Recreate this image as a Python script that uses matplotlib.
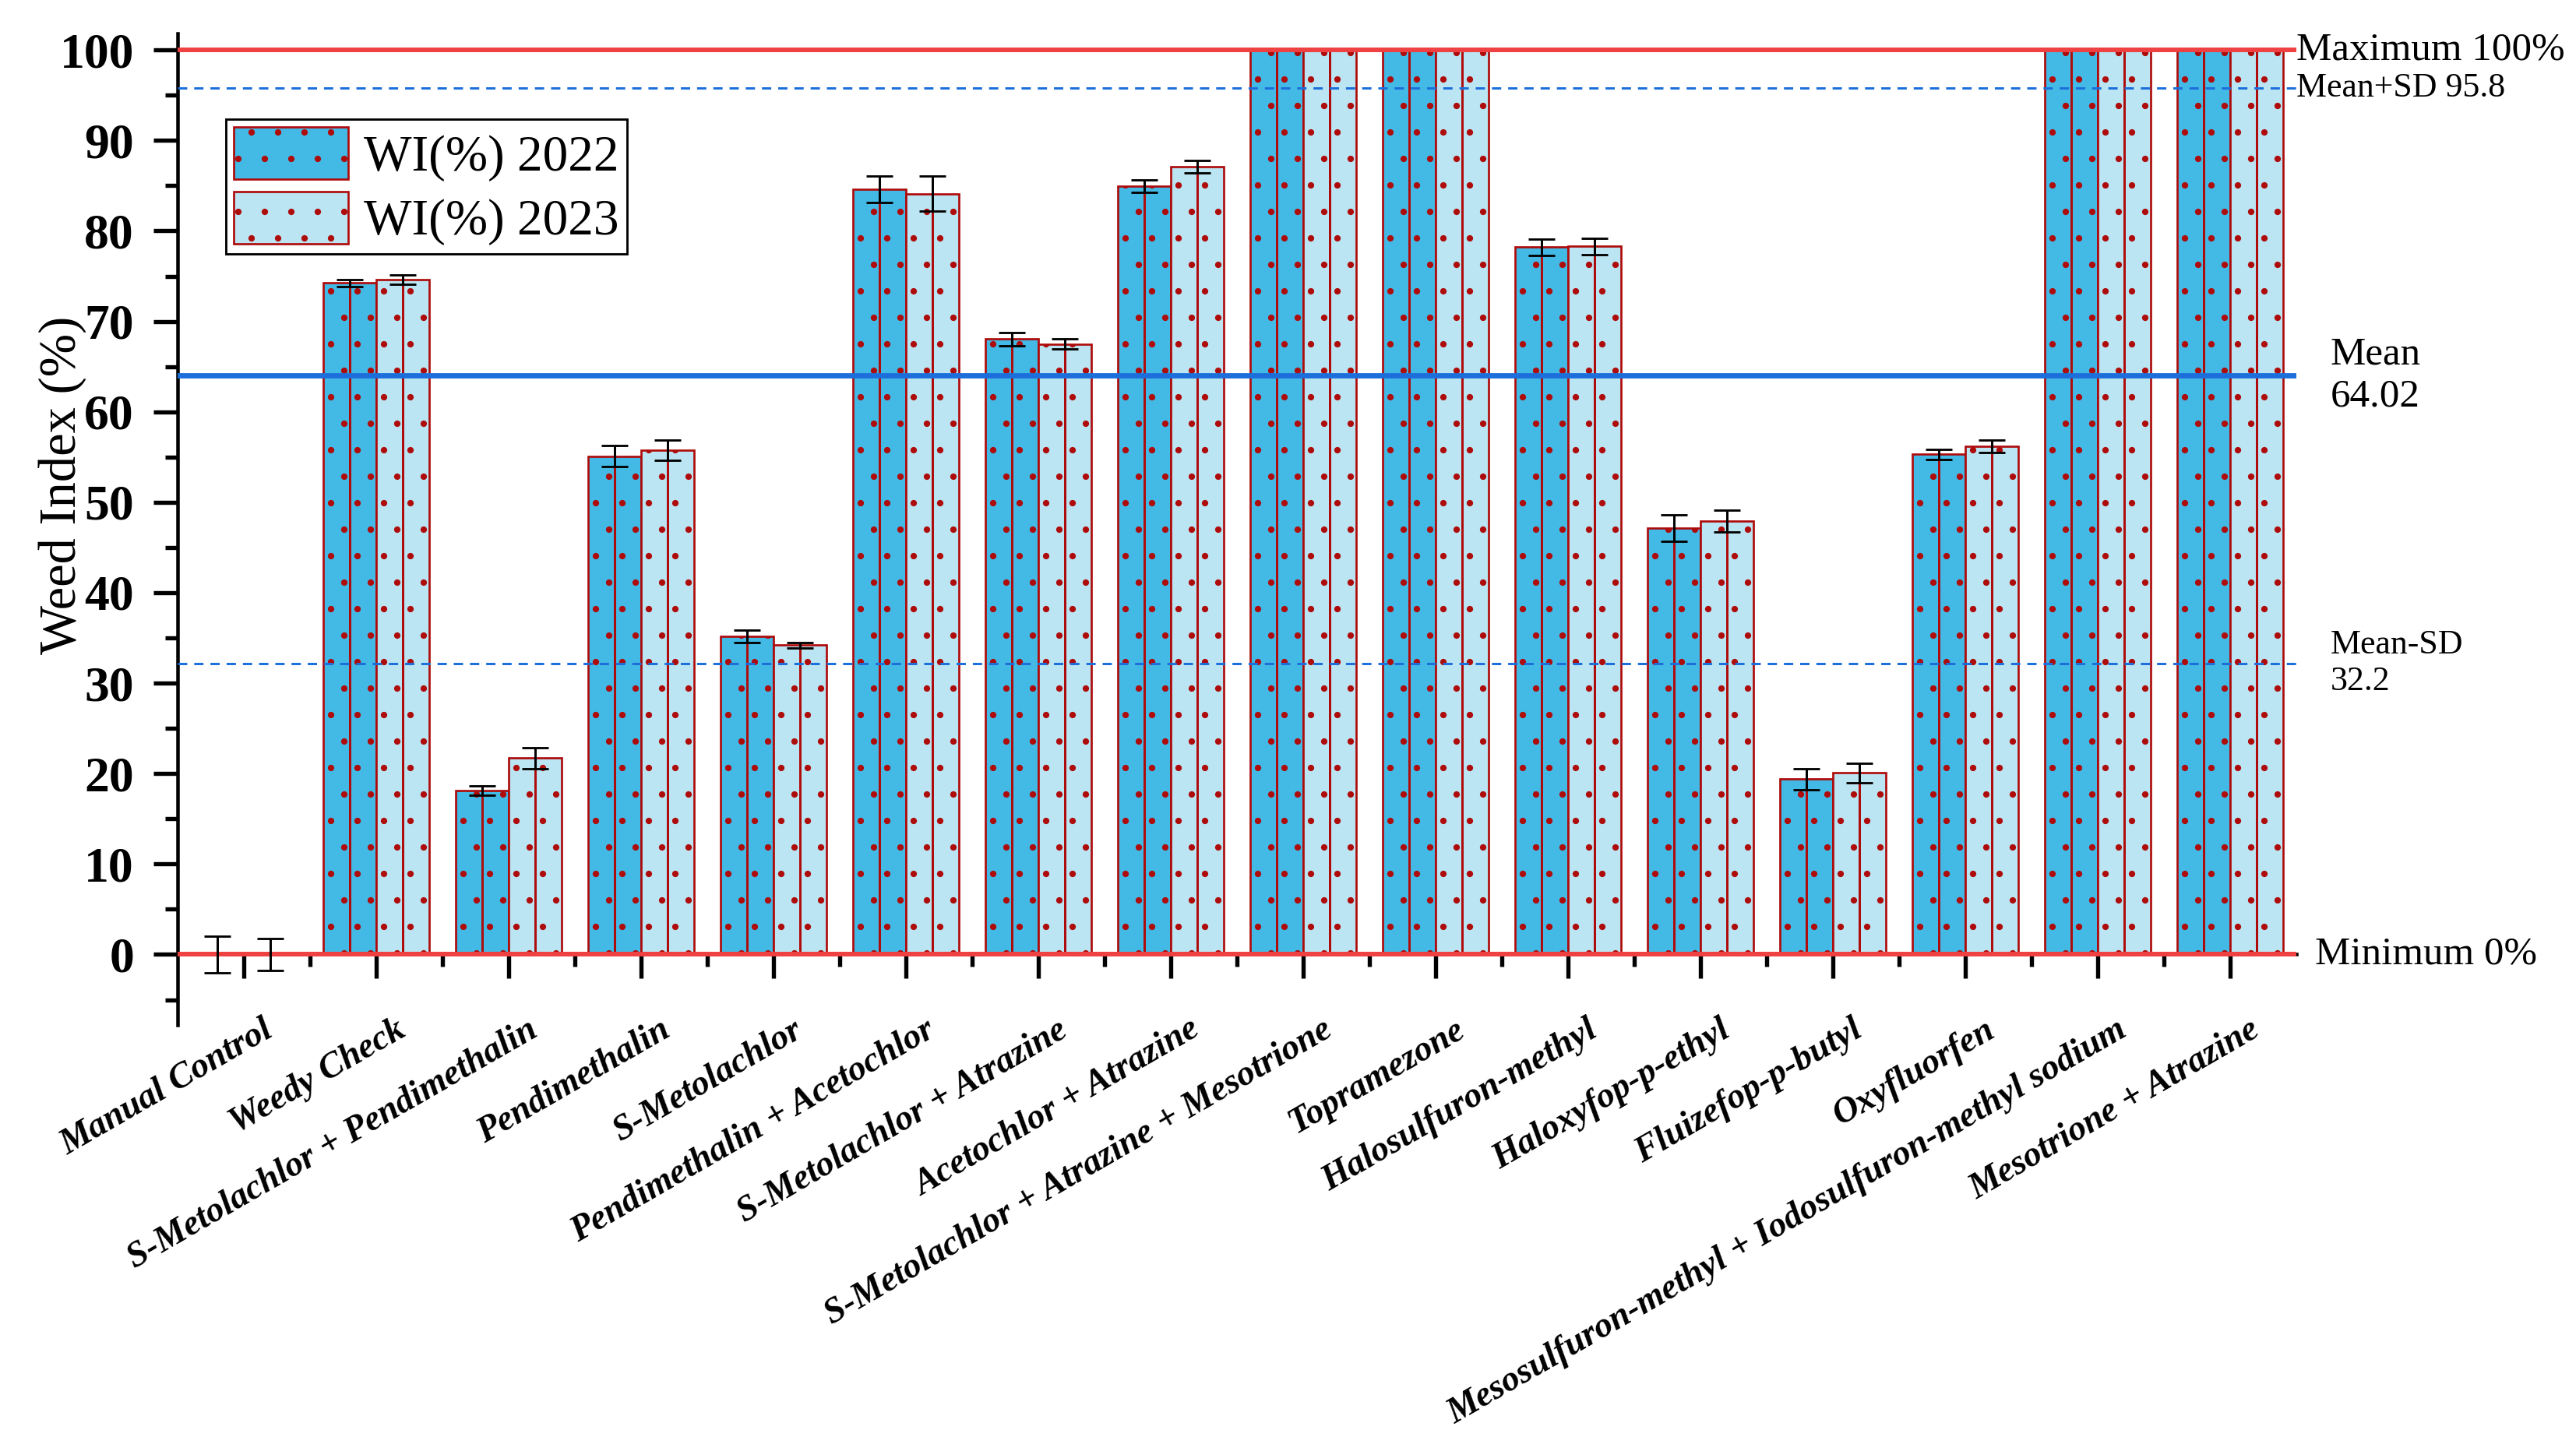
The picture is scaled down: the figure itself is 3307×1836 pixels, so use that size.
import numpy as np
import matplotlib
matplotlib.use("Agg")
import matplotlib.pyplot as plt
import matplotlib.transforms as mtransforms
from matplotlib.ticker import MultipleLocator, FixedLocator

# ---------------- data ----------------
categories = [
    "Manual Control", "Weedy Check", "S-Metolachlor + Pendimethalin",
    "Pendimethalin", "S-Metolachlor", "Pendimethalin + Acetochlor",
    "S-Metolachlor + Atrazine", "Acetochlor + Atrazine",
    "S-Metolachlor + Atrazine + Mesotrione", "Topramezone",
    "Halosulfuron-methyl", "Haloxyfop-p-ethyl", "Fluizefop-p-butyl",
    "Oxyfluorfen", "Mesosulfuron-methyl + Iodosulfuron-methyl sodium",
    "Mesotrione + Atrazine",
]
wi_2022 = [0, 74.25, 18.1, 55.1, 35.2, 84.64, 68.05, 84.93, 100, 100,
           78.2, 47.13, 19.41, 55.31, 100, 100]
sd_2022 = [2.0, 0.39, 0.5, 1.16, 0.7, 1.46, 0.73, 0.69, 0, 0,
           0.9, 1.47, 1.16, 0.57, 0, 0]
wi_2023 = [0, 74.6, 21.7, 55.74, 34.2, 84.12, 67.5, 87.13, 100, 100,
           78.3, 47.93, 20.07, 56.17, 100, 100]
sd_2023 = [1.8, 0.52, 1.2, 1.12, 0.3, 1.94, 0.55, 0.69, 0, 0,
           0.9, 1.23, 1.06, 0.69, 0, 0]
series_labels = ["WI(%) 2022", "WI(%) 2023"]
mean_value = 64.02
mean_plus_sd = 95.8
mean_minus_sd = 32.2
max_value = 100
min_value = 0

# ---------------- style ----------------
DPI = 204
C22 = "#43B9E5"
C23 = "#BBE5F2"
EDGE = "#AE0B0B"
RED = "#EF4141"
BLUE = "#1C6FDB"

plt.rcParams["font.family"] = ["Liberation Serif", "DejaVu Serif"]
plt.rcParams["hatch.linewidth"] = 0.5
plt.rcParams["hatch.color"] = EDGE

fig = plt.figure(figsize=(3307 / DPI, 1836 / DPI), dpi=DPI)
ax = fig.add_axes([0.06894, 0.2832, 0.8225, 0.6932])

x = np.arange(len(categories))
w = 0.4
x22 = x - w / 2
x23 = x + w / 2

b1 = ax.bar(x22, wi_2022, w, color=C22, edgecolor=EDGE, linewidth=0.95,
            hatch=".", zorder=2)
b2 = ax.bar(x23, wi_2023, w, color=C23, edgecolor=EDGE, linewidth=0.95,
            hatch=".", zorder=2)

# central red lines within each bar
ax.vlines(x22, 0, wi_2022, colors=EDGE, linewidth=1.05, zorder=2.5)
ax.vlines(x23, 0, wi_2023, colors=EDGE, linewidth=1.05, zorder=2.5)

# error bars
for xs, vals, errs in ((x22, wi_2022, sd_2022), (x23, wi_2023, sd_2023)):
    vals = np.asarray(vals, float)
    errs = np.asarray(errs, float)
    m = errs > 0
    ax.errorbar(xs[m], vals[m], yerr=errs[m], fmt="none", ecolor="black",
                elinewidth=1.05, capsize=6, capthick=1.0, zorder=4)

# reference lines
ax.axhline(max_value, color=RED, lw=2.1, zorder=3)
ax.axhline(min_value, color=RED, lw=2.1, zorder=3)
ax.axhline(mean_value, color=BLUE, lw=2.4, zorder=3)
ax.axhline(mean_plus_sd, color=BLUE, lw=1.05, dashes=(4, 3), zorder=3)
ax.axhline(mean_minus_sd, color=BLUE, lw=1.05, dashes=(4, 3), zorder=3)

# axes limits
ax.set_xlim(-0.5, len(categories) - 0.5)
ax.set_ylim(-7.8, 101.8)

# spines
for s in ("top", "right"):
    ax.spines[s].set_visible(False)
ax.spines["bottom"].set_position(("data", 0))
ax.spines["left"].set_linewidth(1.6)
ax.spines["bottom"].set_linewidth(1.6)

# ticks
ax.yaxis.set_major_locator(MultipleLocator(10))
ax.yaxis.set_minor_locator(MultipleLocator(5))
ax.xaxis.set_major_locator(FixedLocator(x))
ax.xaxis.set_minor_locator(FixedLocator(x[:-1] + 0.5))
ax.tick_params(axis="both", which="major", direction="out", length=10.8,
               width=1.9)
ax.tick_params(axis="both", which="minor", direction="out", length=5.6,
               width=1.9)
ax.tick_params(axis="y", which="major", pad=9, labelsize=22.5)
ax.tick_params(axis="x", which="major", pad=16)
for lab in ax.get_yticklabels():
    lab.set_fontweight("bold")

ax.set_xticklabels(categories, rotation=30, ha="right", va="top",
                   rotation_mode="anchor", fontsize=16.2,
                   fontweight="bold", fontstyle="italic")
offset = mtransforms.ScaledTranslation(24 / DPI, 0, fig.dpi_scale_trans)
for lab in ax.get_xticklabels():
    lab.set_transform(lab.get_transform() + offset)

ax.set_ylabel("Weed Index (%)", fontsize=23.5)
ax.yaxis.set_label_coords(-0.043, 0.545)

# right-side annotations
trans = mtransforms.blended_transform_factory(ax.transAxes, ax.transData)
ax.text(1.0, max_value, f"Maximum {max_value}%", transform=trans,
        ha="left", va="center", fontsize=18, clip_on=False)
ax.text(1.0, mean_plus_sd, f"Mean+SD {mean_plus_sd}", transform=trans,
        ha="left", va="center", fontsize=15.5, clip_on=False)
ax.text(1.016, mean_value, f"Mean\n{mean_value:.2f}", transform=trans,
        ha="left", va="center", fontsize=18, linespacing=1.2, clip_on=False)
ax.text(1.016, mean_minus_sd, f"Mean-SD\n{mean_minus_sd}", transform=trans,
        ha="left", va="center", fontsize=15.5, linespacing=1.2,
        clip_on=False)
ax.text(1.009, min_value, f"Minimum {min_value}%", transform=trans,
        ha="left", va="center", fontsize=18, clip_on=False)

# legend
leg = ax.legend(handles=[b1, b2], labels=series_labels, loc="upper left",
                bbox_to_anchor=(290 / 3307, 1 - 153 / 1836),
                bbox_transform=fig.transFigure, frameon=True, fancybox=False,
                edgecolor="black", framealpha=1, fontsize=23,
                handlelength=2.25, handleheight=1.2, handletextpad=0.3,
                labelspacing=0.2, borderpad=0.16, borderaxespad=0)
leg.get_frame().set_linewidth(1.0)
leg.set_zorder(10)

fig.savefig("out.png", dpi=DPI)
